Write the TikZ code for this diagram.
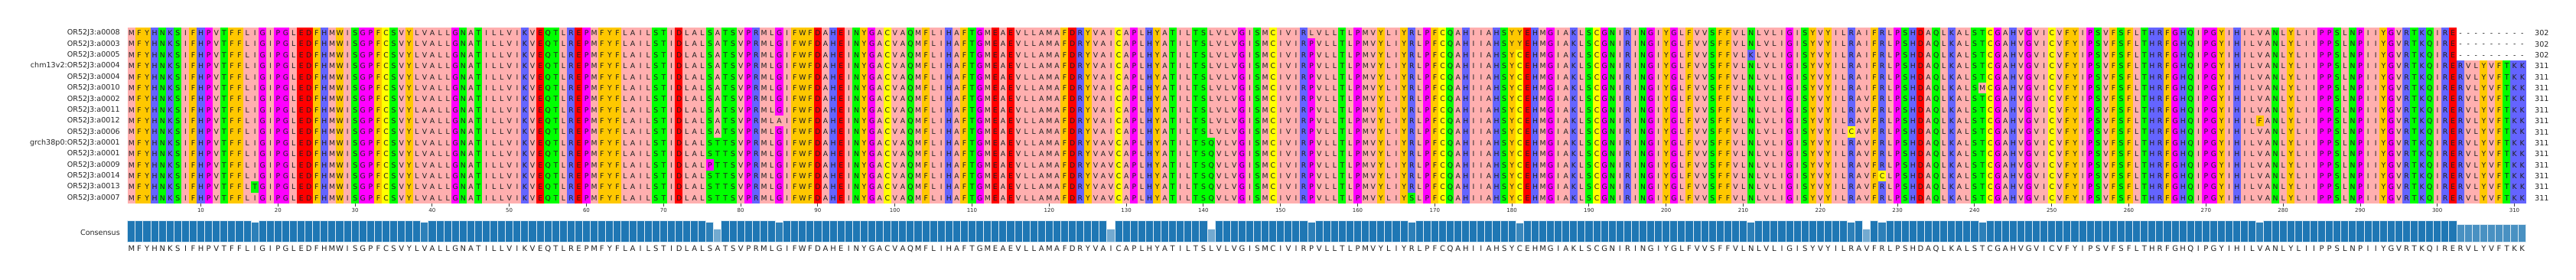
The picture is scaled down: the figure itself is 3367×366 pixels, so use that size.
\documentclass[tikz,border=0pt]{standalone}
\usepackage{fontspec}
\setmainfont{DejaVu Sans}
\usepackage{tikz}
\usetikzlibrary{calc}
\usetikzlibrary{positioning}

\definecolor{zapL}{HTML}{FFAFAF}
\definecolor{zapF}{HTML}{FFC800}
\definecolor{zapK}{HTML}{6464FF}
\definecolor{zapD}{HTML}{FF0000}
\definecolor{zapS}{HTML}{00FF00}
\definecolor{zapP}{HTML}{FF00FF}
\definecolor{zapC}{HTML}{FFFF00}
\colorlet{zapI}{zapL}\colorlet{zapV}{zapL}\colorlet{zapA}{zapL}\colorlet{zapM}{zapL}
\colorlet{zapW}{zapF}\colorlet{zapY}{zapF}
\colorlet{zapR}{zapK}\colorlet{zapH}{zapK}
\colorlet{zapE}{zapD}
\colorlet{zapT}{zapS}\colorlet{zapN}{zapS}\colorlet{zapQ}{zapS}
\colorlet{zapG}{zapP}
\definecolor{barblue}{HTML}{1F77B4}

\tikzset{seqrow/.style={anchor=base west,inner sep=0pt,font=\fontsize{9.3}{9.3}\selectfont,text=black!88}}
\tikzset{seqname/.style={inner sep=0pt,font=\fontsize{9.6}{9.6}\selectfont,text=black!85}}
\tikzset{tickmark/.style={draw=black!75,line width=0.8pt}}
\tikzset{consbar/.style={draw=white!85!barblue,line width=0.8pt}}

% consensus sequence, one residue per column
\newcommand{\baseseq}{M,F,Y,H,N,K,S,I,F,H,P,V,T,F,F,L,I,G,I,P,G,L,E,D,F,H,M,W,I,S,%
G,P,F,C,S,V,Y,L,V,A,L,L,G,N,A,T,I,L,L,V,I,K,V,E,Q,T,L,R,E,P,%
M,F,Y,F,L,A,I,L,S,T,I,D,L,A,L,S,A,T,S,V,P,R,M,L,G,I,F,W,F,D,%
A,H,E,I,N,Y,G,A,C,V,A,Q,M,F,L,I,H,A,F,T,G,M,E,A,E,V,L,L,A,M,%
A,F,D,R,Y,V,A,I,C,A,P,L,H,Y,A,T,I,L,T,S,L,V,L,V,G,I,S,M,C,I,%
V,I,R,P,V,L,L,T,L,P,M,V,Y,L,I,Y,R,L,P,F,C,Q,A,H,I,I,A,H,S,Y,%
C,E,H,M,G,I,A,K,L,S,C,G,N,I,R,I,N,G,I,Y,G,L,F,V,V,S,F,F,V,L,%
N,L,V,L,I,G,I,S,Y,V,Y,I,L,R,A,V,F,R,L,P,S,H,D,A,Q,L,K,A,L,S,%
T,C,G,A,H,V,G,V,I,C,V,F,Y,I,P,S,V,F,S,F,L,T,H,R,F,G,H,Q,I,P,%
G,Y,I,H,I,L,V,A,N,L,Y,L,I,I,P,P,S,L,N,P,I,I,Y,G,V,R,T,K,Q,I,%
R,E,R,V,L,Y,V,F,T,K,K}
% row/column/residue where a sequence differs from the consensus
\newcommand{\variants}{0/154/L,0/181/Y,0/226/I,1/181/Y,1/226/I,2/211/K,2/226/I,
3/226/I,4/226/I,5/226/I,5/241/M,7/39/A,8/85/A,8/277/F,9/224/C,
10/77/T,10/128/V,10/141/Q,11/77/T,11/128/V,11/141/Q,
12/76/P,12/77/T,12/128/V,12/141/Q,13/77/T,13/128/V,13/141/Q,13/228/C,
14/17/T,14/77/T,14/128/V,14/141/Q,15/77/T,15/128/V,15/141/Q,15/167/S}
\newcommand{\setres}[3]{\expandafter\xdef\csname res-#1-#2\endcsname{#3}}
\newcommand{\sethits}[2]{\expandafter\xdef\csname hits-#1\endcsname{#2}}
\newcommand{\cellbox}[1]{\hbox to 10.08pt{\hss#1\hss}}

\foreach \r/\c/\resid in \variants {\setres{\r}{\c}{\resid}}
\sethits{17}{15}\sethits{39}{15}\sethits{76}{15}\sethits{77}{10}\sethits{85}{15}
\sethits{128}{10}\sethits{141}{10}\sethits{154}{15}\sethits{167}{15}\sethits{181}{14}
\sethits{211}{15}\sethits{224}{15}\sethits{226}{10}\sethits{228}{15}\sethits{241}{15}
\sethits{277}{15}
\foreach \c in {303,...,311} {\sethits{\c}{13}}

\begin{document}
\begin{tikzpicture}[x=1pt,y=-1pt]
\useasboundingbox (0,0) rectangle (3367,366);

% column colours, then the cells that differ
\foreach \resid [count=\c] in \baseseq {
  \ifnum\c>302 \def\firstrow{3}\else\def\firstrow{0}\fi
  \fill[zap\resid] ({166.7+(\c-1)*10.08},{36+\firstrow*14.37}) rectangle ({166.7+\c*10.08+0.2},265.9);
}
\foreach \r/\c/\resid in \variants {
  \fill[zap\resid] ({166.7+(\c-1)*10.08},{36+\r*14.37}) rectangle ++(10.08,14.37);
}

% sequence names, residues and lengths
\foreach \seqlabel [count=\r from 0] in {OR52J3:a0008,OR52J3:a0003,OR52J3:a0005,
    chm13v2:OR52J3:a0004,OR52J3:a0004,OR52J3:a0010,OR52J3:a0002,OR52J3:a0011,
    OR52J3:a0012,OR52J3:a0006,grch38p0:OR52J3:a0001,OR52J3:a0001,OR52J3:a0009,
    OR52J3:a0014,OR52J3:a0013,OR52J3:a0007} {
  \ifnum\r<3 \def\rowlen{302}\else\def\rowlen{311}\fi
  \gdef\rowtext{}
  \foreach \resid [count=\c] in \baseseq {
    \ifcsname res-\r-\c\endcsname \edef\resid{\csname res-\r-\c\endcsname}\fi
    \ifnum\c>\rowlen\relax \def\resid{-}\fi
    \xdef\rowtext{\unexpanded\expandafter{\rowtext}\noexpand\cellbox{\resid}}
  }
  \node[seqname,anchor=east] (lab-\r) at (157,{36+(\r+0.5)*14.37}) {\seqlabel};
  \node[seqrow] (row-\r) at (166.7,{36+(\r+0.5)*14.37+3.4}) {\rowtext};
  \node[seqname,anchor=west] (len-\r) at (3313,{36+(\r+0.5)*14.37}) {\rowlen};
}

% ruler
\foreach \c in {10,20,...,310} {
  \coordinate (tick-\c) at ({166.7+(\c-0.5)*10.08},266.3);
  \draw[tickmark] (tick-\c) -- ++(0,3.6)
    node[below=1.6pt,inner sep=0pt,font=\fontsize{7}{7}\selectfont,text=black!85] (num-\c) {\c};
}

% consensus bars and letters
\node[seqname,anchor=east] (conslab) at (157,304.3) {Consensus};
\gdef\rowtext{}
\foreach \resid [count=\c] in \baseseq {
  \ifcsname hits-\c\endcsname \edef\hits{\csname hits-\c\endcsname}\else\def\hits{16}\fi
  \pgfmathsetmacro\pct{100*\hits/16}
  \fill[barblue!\pct!white] ({166.7+(\c-1)*10.08},316.7) rectangle ({166.7+\c*10.08},{316.7-28.4*\hits/16});
  \draw[consbar] ({166.7+(\c-1)*10.08},316.7) rectangle ({166.7+\c*10.08},{316.7-28.4*\hits/16});
  \xdef\rowtext{\unexpanded\expandafter{\rowtext}\noexpand\cellbox{\resid}}
}
\node[seqrow,font=\fontsize{10}{10}\selectfont] (consrow) at (166.7,328.1) {\rowtext};

\end{tikzpicture}
\end{document}
